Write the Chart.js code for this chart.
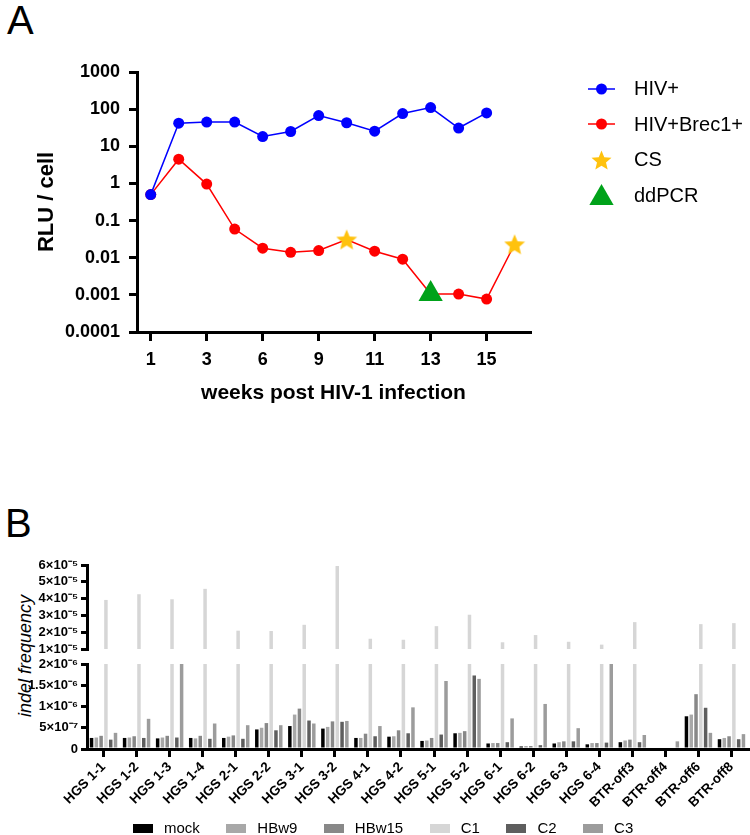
<!DOCTYPE html>
<html>
<head>
<meta charset="utf-8">
<title>HIV-1 reporter activity and Brec1 off-target indels</title>
<script src="https://cdn.jsdelivr.net/npm/chart.js@4.4.1/dist/chart.umd.min.js"></script>
<style>
  body { margin: 0; background: #fff; font-family: "Liberation Sans", Arial, sans-serif; color: #000; }
  .page { position: relative; width: 750px; height: 835px; overflow: hidden; }
  .page canvas.chart { position: absolute; }
  .panel-label { position: absolute; font-size: 40px; line-height: 40px; }
  .legend-a { position: absolute; left: 586px; top: 71px; }
  .legend-a .item { display: flex; align-items: center; height: 35.5px; font-size: 20px; }
  .legend-a .item canvas { margin-right: 17px; }
  .legend-b { position: absolute; left: 133px; top: 818px; display: flex; gap: 26.5px; font-size: 15px; line-height: 20px; }
  .legend-b .item { display: flex; align-items: center; }
  .legend-b .box { display: inline-block; width: 20px; height: 9px; margin-right: 11px; }
  .y-title-b {
    position: absolute; left: 25px; top: 656px; width: 200px; margin-left: -100px;
    text-align: center; font-size: 18px; font-style: italic; line-height: 20px;
    transform: translateY(-10px) rotate(-90deg);
  }
</style>
</head>
<body>
<div class="page">
  <div class="panel-label" style="left: 7px; top: 0px;">A</div>
  <canvas id="chartA" class="chart" width="560" height="425" style="left: 0; top: 0;"></canvas>
  <div class="legend-a" id="legendA"></div>

  <div class="panel-label" style="left: 5px; top: 503px;">B</div>
  <div class="y-title-b">indel frequency</div>
  <canvas id="chartUpper" class="chart" width="750" height="115" style="left: 0; top: 545px;"></canvas>
  <canvas id="chartLower" class="chart" width="750" height="191" style="left: 0; top: 644px;"></canvas>
  <div class="legend-b" id="legendB"></div>
</div>

<script>
// ---- panel A: RLU per cell over time (log scale) ----
const weekTicks = ["1", "3", "6", "9", "11", "13", "15"]   // labelled every second time point
const hivOnly = [0.5, 42, 45, 45, 18.3, 25, 67, 43, 25.5, 76, 110, 31, 79]
const hivBrec1 = [0.5, 4.5, 0.96, 0.059, 0.018, 0.014, 0.0156, 0.031, 0.015, 0.0091, 0.00105, 0.00105, 0.00077, 0.023]
const csSamples = [7, 13]      // time point index where CS was done
const ddpcrSamples = [10]      // time point index where ddPCR was done
const decadeTicks = [1e-4, 1e-3, 1e-2, 1e-1, 1, 10, 100, 1000]
const decadeLabels = ["0.0001", "0.001", "0.01", "0.1", "1", "10", "100", "1000"]

// ---- panel B: indel frequency per target site ----
const targets = ["HGS 1-1", "HGS 1-2", "HGS 1-3", "HGS 1-4", "HGS 2-1", "HGS 2-2", "HGS 3-1", "HGS 3-2", "HGS 4-1", "HGS 4-2",
  "HGS 5-1", "HGS 5-2", "HGS 6-1", "HGS 6-2", "HGS 6-3", "HGS 6-4", "BTR-off3", "BTR-off4", "BTR-off6", "BTR-off8"]
const mock = [2.6e-7, 2.6e-7, 2.5e-7, 2.6e-7, 2.6e-7, 4.6e-7, 5.4e-7, 4.8e-7, 2.6e-7, 2.9e-7,
  1.9e-7, 3.7e-7, 1.3e-7, 0.6e-7, 1.3e-7, 1.1e-7, 1.6e-7, 0, 7.7e-7, 2.3e-7]
const hbw9 = [2.7e-7, 2.7e-7, 2.7e-7, 2.5e-7, 2.9e-7, 5.0e-7, 8.1e-7, 5.2e-7, 2.6e-7, 3.0e-7,
  2.0e-7, 3.8e-7, 1.4e-7, 0.7e-7, 1.6e-7, 1.4e-7, 2.0e-7, 0, 8.1e-7, 2.6e-7]
const hbw15 = [3.1e-7, 3.0e-7, 3.1e-7, 3.1e-7, 3.2e-7, 6.1e-7, 9.5e-7, 6.5e-7, 3.6e-7, 4.4e-7,
  2.6e-7, 4.2e-7, 1.4e-7, 0.7e-7, 1.8e-7, 1.4e-7, 2.2e-7, 0, 12.9e-7, 3.0e-7]
const c1 = [3.92e-5, 4.26e-5, 3.96e-5, 4.58e-5, 2.09e-5, 2.07e-5, 2.44e-5, 5.94e-5, 1.61e-5, 1.55e-5,
  2.36e-5, 3.04e-5, 1.40e-5, 1.83e-5, 1.43e-5, 1.26e-5, 2.60e-5, 0, 2.48e-5, 2.54e-5]
const c2 = [2.2e-7, 2.6e-7, 2.7e-7, 2.4e-7, 2.4e-7, 4.4e-7, 6.7e-7, 6.4e-7, 3.0e-7, 3.7e-7,
  3.4e-7, 17.3e-7, 1.6e-7, 0.9e-7, 1.8e-7, 1.5e-7, 1.6e-7, 0, 9.7e-7, 2.3e-7]
const c3 = [3.8e-7, 7.1e-7, 2.4e-6, 6.0e-7, 5.6e-7, 5.6e-7, 6.0e-7, 6.6e-7, 5.4e-7, 9.8e-7,
  16.0e-7, 16.5e-7, 7.2e-7, 10.6e-7, 4.9e-7, 2.4e-6, 3.3e-7, 1.8e-7, 3.8e-7, 3.5e-7]
const upperTicks = [1e-5, 2e-5, 3e-5, 4e-5, 5e-5, 6e-5]
const upperLabels = ["1×10⁻⁵", "2×10⁻⁵", "3×10⁻⁵", "4×10⁻⁵", "5×10⁻⁵", "6×10⁻⁵"]
const lowerTicks = [0, 5e-7, 1e-6, 1.5e-6, 2e-6]
const lowerLabels = ["0", "5×10⁻⁷", "1×10⁻⁶", "1.5×10⁻⁶", "2×10⁻⁶"]

const BLUE = "#0000ff"
const RED = "#ff0000"
const GOLD = "#ffc20e"
const GREEN = "#00a21a"

Chart.defaults.font.family = "'Liberation Sans', Arial, sans-serif"
Chart.defaults.color = "#000"

// small canvases used as point styles and legend icons
const iconCanvas = (w, h, draw) => {
  const c = document.createElement("canvas")
  c.width = w
  c.height = h
  draw(c.getContext("2d"), w / 2, h / 2)
  return c
}
const drawStar = (ctx, cx, cy, r) => {
  ctx.beginPath()
  for (let i = 0; i < 10; i++) {
    const rr = i % 2 ? r * 0.45 : r
    const a = -Math.PI / 2 + i * Math.PI / 5
    ctx.lineTo(cx + rr * Math.cos(a), cy + rr * Math.sin(a))
  }
  ctx.closePath()
  ctx.fillStyle = GOLD
  ctx.fill()
}
const drawTriangle = (ctx, cx, cy, r) => {
  ctx.beginPath()
  for (let i = 0; i < 3; i++) {
    const a = -Math.PI / 2 + i * 2 * Math.PI / 3
    ctx.lineTo(cx + r * Math.cos(a), cy + r * Math.sin(a))
  }
  ctx.closePath()
  ctx.fillStyle = GREEN
  ctx.fill()
}
const starMarker = iconCanvas(22, 22, (ctx, cx, cy) => drawStar(ctx, cx, cy + 1, 11))

const toPoints = (values) => values.map((y, x) => ({ x, y }))
const hiddenUnderMarker = (ctx) =>
  csSamples.includes(ctx.dataIndex) || ddpcrSamples.includes(ctx.dataIndex) ? 0 : 5.5

const axisGrid = (len) => ({ drawOnChartArea: false, tickLength: len, lineWidth: 3, color: "#000" })
const axisBorder = { width: 3, color: "#000" }

new Chart(document.getElementById("chartA"), {
  type: "line",
  data: {
    datasets: [
      {
        label: "CS",
        data: csSamples.map(i => ({ x: i, y: hivBrec1[i] })),
        showLine: false,
        pointStyle: starMarker,
        pointRadius: 11,
        order: 0,
      },
      {
        label: "ddPCR",
        data: ddpcrSamples.map(i => ({ x: i, y: hivBrec1[i] })),
        showLine: false,
        pointStyle: "triangle",
        pointRadius: 14,
        pointBorderWidth: 0,
        backgroundColor: GREEN,
        borderColor: GREEN,
        order: 0,
      },
      {
        label: "HIV+",
        data: toPoints(hivOnly),
        borderColor: BLUE,
        backgroundColor: BLUE,
        borderWidth: 1.5,
        pointRadius: 5.5,
        pointBorderWidth: 0,
        tension: 0,
        order: 1,
      },
      {
        label: "HIV+Brec1+",
        data: toPoints(hivBrec1),
        borderColor: RED,
        backgroundColor: RED,
        borderWidth: 1.5,
        pointRadius: hiddenUnderMarker,
        pointBorderWidth: 0,
        tension: 0,
        order: 2,
      },
    ],
  },
  options: {
    responsive: false,
    animation: false,
    events: [],
    layout: { padding: { top: 72, right: 30, bottom: 0, left: 0 } },
    plugins: { legend: { display: false }, tooltip: { enabled: false } },
    scales: {
      x: {
        type: "linear",
        min: -0.49,
        max: 13.55,
        afterBuildTicks: (scale) => { scale.ticks = weekTicks.map((_, i) => ({ value: i * 2 })) },
        afterFit: (scale) => { scale.height = 93 },
        ticks: { callback: (v, i) => weekTicks[i], font: { size: 18, weight: "bold" }, padding: 8, maxRotation: 0, autoSkip: false },
        grid: axisGrid(9),
        border: axisBorder,
        title: {
          display: true,
          text: "weeks post HIV-1 infection",
          font: { size: 21, weight: "bold" },
          padding: { top: 0, bottom: 19 },
        },
      },
      y: {
        type: "logarithmic",
        min: 1e-4,
        max: 1e3,
        afterBuildTicks: (scale) => { scale.ticks = decadeTicks.map(v => ({ value: v })) },
        afterFit: (scale) => { scale.width = 137 },
        ticks: { callback: (v, i) => decadeLabels[i], font: { size: 18, weight: "bold" }, padding: 9, autoSkip: false },
        grid: axisGrid(8),
        border: axisBorder,
        title: {
          display: true,
          text: "RLU / cell",
          font: { size: 22, weight: "bold" },
          padding: { top: 34, bottom: 0 },
        },
      },
    },
  },
})

// legend for panel A (line + dot, star, triangle)
function lineDot(ctx, cy, color) {
  ctx.strokeStyle = color
  ctx.fillStyle = color
  ctx.lineWidth = 1.5
  ctx.beginPath()
  ctx.moveTo(2, cy)
  ctx.lineTo(29, cy)
  ctx.stroke()
  ctx.beginPath()
  ctx.arc(15.5, cy, 5.5, 0, Math.PI * 2)
  ctx.fill()
}
const legendItems = [
  { text: "HIV+", draw: (ctx, cx, cy) => lineDot(ctx, cy, BLUE) },
  { text: "HIV+Brec1+", draw: (ctx, cx, cy) => lineDot(ctx, cy, RED) },
  { text: "CS", draw: (ctx, cx, cy) => drawStar(ctx, cx, cy + 1, 10.5) },
  { text: "ddPCR", draw: (ctx, cx, cy) => drawTriangle(ctx, cx, cy + 3, 14) },
]
const legendA = document.getElementById("legendA")
legendItems.forEach(item => {
  const row = document.createElement("div")
  row.className = "item"
  row.appendChild(iconCanvas(31, 30, item.draw))
  const label = document.createElement("span")
  label.textContent = item.text
  row.appendChild(label)
  legendA.appendChild(row)
})

// ---- panel B: broken y axis drawn as two charts sharing the categories ----
const barSeries = [
  { label: "mock", data: mock, color: "#000000" },
  { label: "HBw9", data: hbw9, color: "#a8a8a8" },
  { label: "HBw15", data: hbw15, color: "#888888" },
  { label: "C1", data: c1, color: "#d6d6d6" },
  { label: "C2", data: c2, color: "#5e5e5e" },
  { label: "C3", data: c3, color: "#9c9c9c" },
]
const barDatasets = () => barSeries.map(s => ({
  label: s.label,
  data: s.data,
  backgroundColor: s.color,
  borderWidth: 0,
  categoryPercentage: 0.87,
  barPercentage: 0.73,
  clip: 0,
}))
const yTickFont = { size: 13, weight: "bold" }

new Chart(document.getElementById("chartUpper"), {
  type: "bar",
  data: { labels: targets, datasets: barDatasets() },
  options: {
    responsive: false,
    animation: false,
    events: [],
    layout: { padding: { top: 20, right: 2, bottom: 11, left: 12 } },
    plugins: { legend: { display: false }, tooltip: { enabled: false } },
    scales: {
      x: { display: false },
      y: {
        min: 1e-5,
        max: 6e-5,
        afterBuildTicks: (scale) => { scale.ticks = upperTicks.map(v => ({ value: v })) },
        afterFit: (scale) => { scale.width = 75 },
        ticks: { callback: (v, i) => upperLabels[i], font: yTickFont, padding: 3, autoSkip: false },
        grid: axisGrid(6),
        border: axisBorder,
      },
    },
  },
})

new Chart(document.getElementById("chartLower"), {
  type: "bar",
  data: { labels: targets, datasets: barDatasets() },
  options: {
    responsive: false,
    animation: false,
    events: [],
    layout: { padding: { top: 20, right: 2, bottom: 0, left: 12 } },
    plugins: { legend: { display: false }, tooltip: { enabled: false } },
    scales: {
      x: {
        afterFit: (scale) => { scale.height = 86 },
        ticks: { font: { size: 13.5, weight: "bold" }, minRotation: 45, maxRotation: 45, autoSkip: false, padding: 2 },
        grid: { ...axisGrid(8), offset: false },
        border: axisBorder,
      },
      y: {
        min: 0,
        max: 2e-6,
        afterBuildTicks: (scale) => { scale.ticks = lowerTicks.map(v => ({ value: v })) },
        afterFit: (scale) => { scale.width = 75 },
        ticks: { callback: (v, i) => lowerLabels[i], font: yTickFont, padding: 3, autoSkip: false },
        grid: axisGrid(6),
        border: axisBorder,
      },
    },
  },
})

// legend for panel B
const legendB = document.getElementById("legendB")
barSeries.forEach(s => {
  const item = document.createElement("div")
  item.className = "item"
  const box = document.createElement("span")
  box.className = "box"
  box.style.background = s.color
  item.appendChild(box)
  item.appendChild(document.createTextNode(s.label))
  legendB.appendChild(item)
})
</script>
</body>
</html>
